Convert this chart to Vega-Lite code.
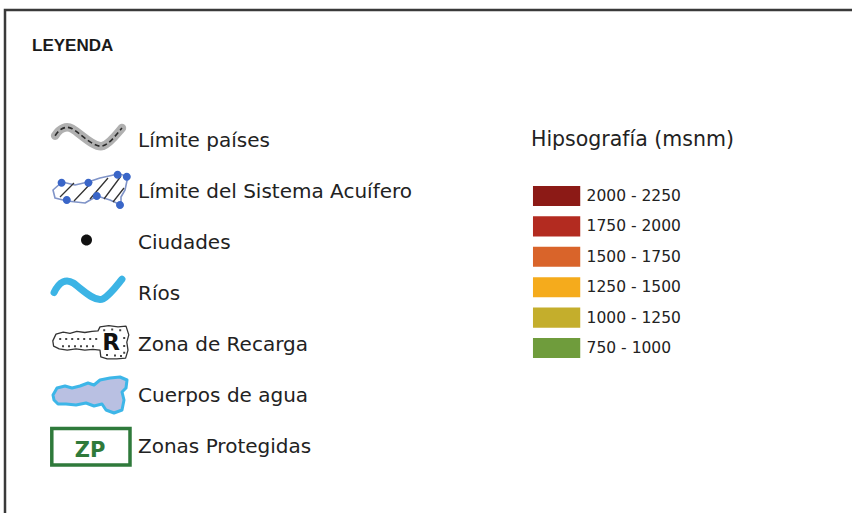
{
  "$schema": "https://vega.github.io/schema/vega-lite/v6.json",
  "width": 857,
  "height": 513,
  "autosize": {"type": "none"},
  "padding": {"left": 5, "top": 10, "right": -10, "bottom": -10},
  "background": "#ffffff",
  "config": {"view": {"stroke": "#3a3a3a", "strokeWidth": 2.5}, "font": "DejaVu Sans"},
  "title": {
    "text": "LEYENDA",
    "anchor": "start",
    "frame": "group",
    "orient": "top",
    "offset": 0,
    "dx": 27,
    "dy": 58,
    "baseline": "alphabetic",
    "font": "Liberation Sans",
    "fontSize": 17,
    "fontWeight": "bold",
    "color": "#1a1a1a"
  },
  "datasets": {
    "simbolos": [
      {"columna": "símbolos", "fila": 0, "tipo": "limite_paises", "etiqueta": "Límite países", "icono": ""},
      {"columna": "símbolos", "fila": 1, "tipo": "limite_acuifero", "etiqueta": "Límite del Sistema Acuífero", "icono": ""},
      {"columna": "símbolos", "fila": 2, "tipo": "ciudades", "etiqueta": "Ciudades", "icono": ""},
      {"columna": "símbolos", "fila": 3, "tipo": "rios", "etiqueta": "Ríos", "icono": ""},
      {"columna": "símbolos", "fila": 4, "tipo": "recarga", "etiqueta": "Zona de Recarga", "icono": "R"},
      {"columna": "símbolos", "fila": 5, "tipo": "agua", "etiqueta": "Cuerpos de agua", "icono": ""},
      {"columna": "símbolos", "fila": 6, "tipo": "protegidas", "etiqueta": "Zonas Protegidas", "icono": "ZP"}
    ],
    "hipsografia": [
      {"rango": "2000 - 2250"},
      {"rango": "1750 - 2000"},
      {"rango": "1500 - 1750"},
      {"rango": "1250 - 1500"},
      {"rango": "1000 - 1250"},
      {"rango": "750 - 1000"}
    ]
  },
  "layer": [
    {
      "data": {"name": "simbolos"},
      "encoding": {
        "x": {"field": "columna", "type": "nominal", "axis": null, "scale": {"type": "point", "domain": ["símbolos", "hipsografía"], "range": [83, 551], "padding": 0}},
        "y": {"field": "fila", "type": "quantitative", "axis": null, "scale": {"domain": [0, 6], "range": [128.5, 435.1], "nice": false, "zero": false}}
      },
      "layer": [
        {
          "mark": {"type": "text", "align": "left", "baseline": "alphabetic", "dx": 50, "dy": 8, "font": "DejaVu Sans", "fontSize": 20, "color": "#222222"},
          "encoding": {"text": {"field": "etiqueta"}}
        },
        {
          "transform": [{"filter": "datum.tipo === 'limite_paises'"}],
          "mark": {"type": "point", "filled": false, "opacity": 1, "size": 4900, "stroke": "#b0b0b0", "strokeWidth": 8.5, "strokeCap": "round", "shape": "M-0.94,-0.08C-0.8,-0.3 -0.62,-0.37 -0.45,-0.28C-0.25,-0.17 0.2,0.3 0.43,0.21C0.62,0.15 0.8,-0.1 0.97,-0.3"}
        },
        {
          "transform": [{"filter": "datum.tipo === 'limite_paises'"}],
          "mark": {"type": "point", "filled": false, "opacity": 1, "size": 4900, "stroke": "#2a2a2a", "strokeWidth": 1.6, "strokeDash": [5, 3], "shape": "M-0.94,-0.08C-0.8,-0.3 -0.62,-0.37 -0.45,-0.28C-0.25,-0.17 0.2,0.3 0.43,0.21C0.62,0.15 0.8,-0.1 0.97,-0.3"}
        },
        {
          "transform": [{"filter": "datum.tipo === 'limite_acuifero'"}],
          "mark": {"type": "point", "filled": false, "opacity": 1, "size": 6400, "stroke": "#8094c8", "strokeWidth": 1.6, "strokeJoin": "round", "shape": "M-0.875,0.01L-0.65,-0.19L-0.325,-0.115L0,-0.19L0.3,-0.29L0.75,-0.39L1,-0.34L0.925,0.01L0.825,0.185L0.825,0.385L0.55,0.26L0.225,0.16L-0.075,0.335L-0.525,0.285L-0.825,0.21Z"}
        },
        {
          "transform": [{"filter": "datum.tipo === 'limite_acuifero'"}],
          "mark": {"type": "point", "filled": false, "opacity": 1, "size": 6400, "stroke": "#333333", "strokeWidth": 1.3, "shape": "M-0.7,0.185L-0.35,-0.165M-0.35,0.285L0.1,-0.19M0.05,0.235L0.5,-0.29M0.4,0.235L0.825,-0.34M0.625,0.31L0.9,-0.04"}
        },
        {
          "transform": [{"filter": "datum.tipo === 'limite_acuifero'"}],
          "mark": {"type": "point", "filled": true, "opacity": 1, "size": 6400, "fill": "#3a66c8", "strokeWidth": 0, "shape": "M-0.76,-0.17a0.1 0.1 0 1 0 0.2 0a0.1 0.1 0 1 0 -0.2 0ZM-0.09,-0.17a0.1 0.1 0 1 0 0.2 0a0.1 0.1 0 1 0 -0.2 0ZM0.64,-0.37a0.1 0.1 0 1 0 0.2 0a0.1 0.1 0 1 0 -0.2 0ZM0.87,-0.32a0.1 0.1 0 1 0 0.2 0a0.1 0.1 0 1 0 -0.2 0ZM-0.63,0.26a0.1 0.1 0 1 0 0.2 0a0.1 0.1 0 1 0 -0.2 0ZM0.12,0.16a0.1 0.1 0 1 0 0.2 0a0.1 0.1 0 1 0 -0.2 0ZM0.7,0.385a0.1 0.1 0 1 0 0.2 0a0.1 0.1 0 1 0 -0.2 0Z"}
        },
        {
          "transform": [{"filter": "datum.tipo === 'ciudades'"}],
          "mark": {"type": "point", "filled": true, "opacity": 1, "size": 400, "fill": "#111111", "strokeWidth": 0, "shape": "M-0.7,-0.07a0.55 0.55 0 1 0 1.1 0a0.55 0.55 0 1 0 -1.1 0Z"}
        },
        {
          "transform": [{"filter": "datum.tipo === 'rios'"}],
          "mark": {"type": "point", "filled": false, "opacity": 1, "size": 4900, "stroke": "#3cb4e5", "strokeWidth": 7, "strokeCap": "round", "shape": "M-0.97,0.02C-0.82,-0.3 -0.62,-0.38 -0.42,-0.25C-0.2,-0.1 0.2,0.32 0.43,0.2C0.62,0.1 0.8,-0.15 0.97,-0.36"}
        },
        {
          "transform": [{"filter": "datum.tipo === 'recarga'"}],
          "mark": {"type": "point", "filled": true, "opacity": 1, "size": 6400, "fill": "#ffffff", "stroke": "#333333", "strokeWidth": 1.3, "strokeJoin": "round", "shape": "M-0.88,-0.05L-0.8,-0.22L-0.62,-0.27L-0.45,-0.24L-0.28,-0.29L-0.08,-0.26L0.1,-0.29L0.25,-0.3L0.3,-0.4L0.52,-0.43L0.75,-0.4L0.95,-0.42L1.02,-0.2L0.97,-0.02L1,0.18L0.94,0.38L0.72,0.4L0.48,0.4L0.32,0.35L0.3,0.18L0.12,0.16L-0.08,0.18L-0.3,0.15L-0.52,0.18L-0.72,0.15L-0.86,0.08Z"}
        },
        {
          "transform": [{"filter": "datum.tipo === 'recarga'"}],
          "mark": {"type": "point", "filled": true, "opacity": 1, "size": 6400, "fill": "#444444", "strokeWidth": 0, "shape": "M-0.72,-0.12h0.05v0.05h-0.05ZM-0.57,-0.12h0.05v0.05h-0.05ZM-0.42,-0.12h0.05v0.05h-0.05ZM-0.27,-0.12h0.05v0.05h-0.05ZM-0.12,-0.12h0.05v0.05h-0.05ZM0.03,-0.12h0.05v0.05h-0.05ZM0.18,-0.12h0.05v0.05h-0.05ZM-0.65,0.06h0.05v0.05h-0.05ZM-0.5,0.06h0.05v0.05h-0.05ZM-0.35,0.06h0.05v0.05h-0.05ZM-0.2,0.06h0.05v0.05h-0.05ZM-0.05,0.06h0.05v0.05h-0.05ZM0.1,0.06h0.05v0.05h-0.05ZM0.38,-0.34h0.05v0.05h-0.05ZM0.58,-0.36h0.05v0.05h-0.05ZM0.78,-0.34h0.05v0.05h-0.05ZM0.88,-0.15h0.05v0.05h-0.05ZM0.88,0.05h0.05v0.05h-0.05ZM0.88,0.22h0.05v0.05h-0.05ZM0.45,0.28h0.05v0.05h-0.05ZM0.65,0.29h0.05v0.05h-0.05ZM0.8,0.3h0.05v0.05h-0.05Z"}
        },
        {
          "transform": [{"filter": "datum.tipo === 'recarga'"}],
          "mark": {"type": "text", "align": "center", "baseline": "alphabetic", "dx": 23, "dy": 7, "font": "DejaVu Sans", "fontSize": 23, "fontWeight": "bold", "color": "#111111"},
          "encoding": {"text": {"field": "icono"}}
        },
        {
          "transform": [{"filter": "datum.tipo === 'agua'"}],
          "mark": {"type": "point", "filled": true, "opacity": 1, "size": 6400, "fill": "#b9c0e2", "stroke": "#3db6e8", "strokeWidth": 3, "strokeJoin": "round", "shape": "M-0.875,0.025L-0.775,-0.15L-0.575,-0.2L-0.4,-0.15L-0.2,-0.2L0,-0.275L0.15,-0.225L0.3,-0.35L0.55,-0.4L0.8,-0.425L0.975,-0.35L0.95,-0.15L0.85,-0.05L0.9,0.15L0.85,0.4L0.65,0.475L0.45,0.4L0.35,0.25L0.15,0.3L-0.05,0.225L-0.3,0.275L-0.55,0.25L-0.75,0.25L-0.85,0.15Z"}
        },
        {
          "transform": [{"filter": "datum.tipo === 'protegidas'"}],
          "mark": {"type": "point", "filled": false, "opacity": 1, "size": 6400, "stroke": "#2f7a3b", "strokeWidth": 3.5, "shape": "M-0.905,-0.415H1.05V0.495H-0.905Z"}
        },
        {
          "transform": [{"filter": "datum.tipo === 'protegidas'"}],
          "mark": {"type": "text", "align": "center", "baseline": "alphabetic", "dx": 2, "dy": 11.5, "font": "DejaVu Sans", "fontSize": 21, "fontWeight": "bold", "color": "#2f7a3b"},
          "encoding": {"text": {"field": "icono"}}
        }
      ]
    },
    {
      "data": {"name": "hipsografia"},
      "mark": {"type": "point", "filled": true, "opacity": 0},
      "encoding": {
        "color": {
          "field": "rango",
          "type": "nominal",
          "scale": {
            "domain": ["2000 - 2250", "1750 - 2000", "1500 - 1750", "1250 - 1500", "1000 - 1250", "750 - 1000"],
            "range": ["#8c1a16", "#b32b20", "#d9642a", "#f5ab1c", "#c4ae2c", "#6f9c3c"]
          },
          "legend": {
            "orient": "none",
            "legendX": 526,
            "legendY": 120,
            "direction": "vertical",
            "padding": 0,
            "title": "Hipsografía (msnm)",
            "titleFont": "DejaVu Sans",
            "titleFontSize": 20.5,
            "titleFontWeight": "normal",
            "titleColor": "#222222",
            "titlePadding": 30,
            "titleLimit": 400,
            "titleAnchor": "start",
            "symbolType": "M-0.89,-0.66H2.22V0.66H-0.89Z",
            "symbolSize": 924,
            "symbolStrokeWidth": 0,
            "symbolOpacity": 1,
            "rowPadding": 4.4,
            "labelFont": "DejaVu Sans",
            "labelFontSize": 15.5,
            "labelColor": "#222222",
            "labelOffset": 24.6,
            "labelLimit": 300
          }
        }
      }
    }
  ]
}
